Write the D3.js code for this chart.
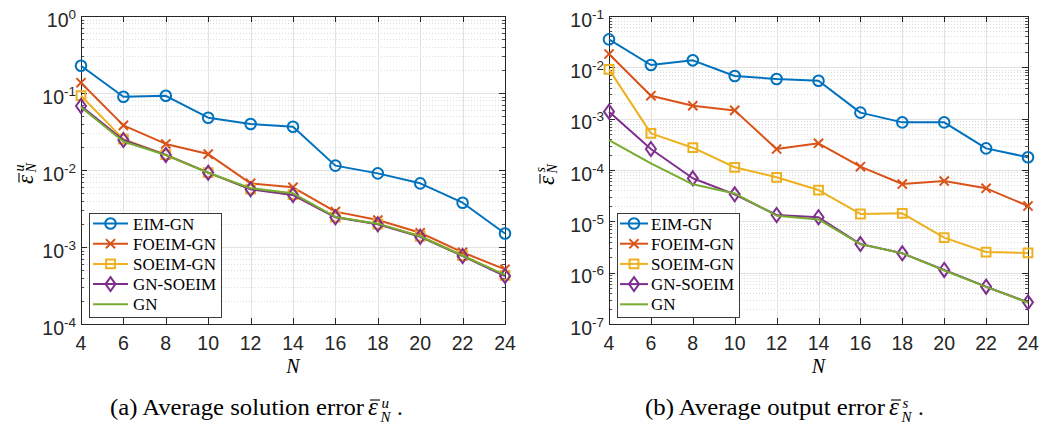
<!DOCTYPE html>
<html>
<head>
<meta charset="utf-8">
<script src="https://cdn.jsdelivr.net/npm/d3@7"></script>
<style>
  body { margin: 0; background: #fff; }
  svg { display: block; }
</style>
</head>
<body>
<svg id="fig" width="1047" height="426"></svg>
<script>
// Reduced-basis dimension N
const Nvals = [4, 6, 8, 10, 12, 14, 16, 18, 20, 22, 24];
const xTicks = [4, 6, 8, 10, 12, 14, 16, 18, 20, 22, 24];

const seriesNames = ["EIM-GN", "FOEIM-GN", "SOEIM-GN", "GN-SOEIM", "GN"];
const seriesColors = ["#0072BD", "#D95319", "#EDB120", "#7E2F8E", "#77AC30"];
const seriesMarkers = ["circle", "cross", "square", "diamond", "none"];

// (a) average solution error
const solEIM   = [0.226, 0.0895, 0.092, 0.0478, 0.0396, 0.0365, 0.0114, 0.00904, 0.00671, 0.00376, 0.00150];
const solFOEIM = [0.136, 0.038, 0.0218, 0.0161, 0.00671, 0.00596, 0.00288, 0.00224, 0.00153, 0.000853, 0.000513];
const solSOEIM = [0.0923, 0.0252, 0.0158, 0.00925, 0.00565, 0.00478, 0.00245, 0.00199, 0.00138, 0.000775, 0.000428];
const solGNSOEIM = [0.0678, 0.0245, 0.0157, 0.00923, 0.00561, 0.00473, 0.00243, 0.00197, 0.00136, 0.000764, 0.000420];
const solGN    = [0.0652, 0.0235, 0.0156, 0.0092, 0.0058, 0.00498, 0.00246, 0.00201, 0.00138, 0.00077, 0.000435];
const solDecades = [-4, -3, -2, -1, 0];

// (b) average output error
const outEIM   = [0.0351, 0.0111, 0.0137, 0.00678, 0.00593, 0.00549, 0.00131, 0.000847, 0.000847, 0.000264, 0.000177];
const outFOEIM = [0.0182, 0.0028, 0.00179, 0.00145, 0.000256, 0.000331, 0.000116, 5.33e-5, 6.1e-5, 4.4e-5, 1.99e-5];
const outSOEIM = [0.00914, 0.000518, 0.000272, 0.000113, 7.2e-5, 4.07e-5, 1.39e-5, 1.43e-5, 4.81e-6, 2.52e-6, 2.42e-6];
const outGNSOEIM = [0.00137, 0.000256, 6.89e-5, 3.36e-5, 1.33e-5, 1.2e-5, 3.61e-6, 2.38e-6, 1.13e-6, 5.33e-7, 2.64e-7];
const outGN    = [0.000384, 0.000135, 5.26e-5, 3.5e-5, 1.29e-5, 1.09e-5, 3.6e-6, 2.4e-6, 1.1e-6, 5.3e-7, 2.6e-7];
const outDecades = [-7, -6, -5, -4, -3, -2, -1];

const svg = d3.select("#fig");
const AXIS = "#262626";
const SANS = "'Liberation Sans', Arial, Helvetica, sans-serif";
const SERIF = "'Liberation Serif', 'DejaVu Serif', serif";

function markerPath(kind, cx, cy) {
  const p = d3.path();
  if (kind === "circle") {
    p.moveTo(cx + 5.3, cy);
    p.arc(cx, cy, 5.3, 0, 2 * Math.PI);
  } else if (kind === "cross") {
    const s = 4.6;
    p.moveTo(cx - s, cy - s); p.lineTo(cx + s, cy + s);
    p.moveTo(cx - s, cy + s); p.lineTo(cx + s, cy - s);
  } else if (kind === "square") {
    const s = 4.4;
    p.rect(cx - s, cy - s, 2 * s, 2 * s);
  } else if (kind === "diamond") {
    p.moveTo(cx, cy - 7); p.lineTo(cx + 5, cy); p.lineTo(cx, cy + 7); p.lineTo(cx - 5, cy); p.closePath();
  }
  return p.toString();
}

// epsilon-bar with a superscript and subscript N, drawn at local origin (baseline)
function epsLabel(g, sup, size, o) {
  g.append("text").attr("x", 0).attr("y", 0)
    .attr("font-family", SERIF).attr("font-style", "italic").attr("font-size", size)
    .attr("fill", "#000").text("\u03B5");
  g.append("line").attr("x1", o.barX0).attr("x2", o.barX1)
    .attr("y1", o.barY).attr("y2", o.barY)
    .attr("stroke", "#000").attr("stroke-width", 1.1);
  g.append("text").attr("x", o.scriptX).attr("y", o.supY)
    .attr("font-family", SERIF).attr("font-style", "italic").attr("font-size", o.scriptSize)
    .attr("fill", "#000").text(sup);
  g.append("text").attr("x", o.scriptX - 1).attr("y", o.subY)
    .attr("font-family", SERIF).attr("font-style", "italic").attr("font-size", o.scriptSize)
    .attr("fill", "#000").text("N");
}

function drawPanel(cfg) {
  const x = d3.scaleLinear().domain([4, 24]).range([cfg.left, cfg.right]);
  const y = d3.scaleLog().domain([Math.pow(10, cfg.decades[0]), Math.pow(10, cfg.decades[cfg.decades.length - 1])])
    .range([cfg.bottom, cfg.top]);
  const g = svg.append("g");

  // minor log grid (dotted)
  const minor = [];
  for (let i = 0; i < cfg.decades.length - 1; i++) {
    for (let m = 2; m <= 9; m++) minor.push(m * Math.pow(10, cfg.decades[i]));
  }
  g.selectAll(".mgrid").data(minor).enter().append("line")
    .attr("x1", cfg.left).attr("x2", cfg.right)
    .attr("y1", d => Math.round(y(d)) + 0.5).attr("y2", d => Math.round(y(d)) + 0.5)
    .attr("stroke", "#d4d4d4").attr("stroke-width", 0.8).attr("stroke-dasharray", "1,2");

  // major grid
  g.selectAll(".ygrid").data(cfg.decades).enter().append("line")
    .attr("x1", cfg.left).attr("x2", cfg.right)
    .attr("y1", d => Math.round(y(Math.pow(10, d))) + 0.5).attr("y2", d => Math.round(y(Math.pow(10, d))) + 0.5)
    .attr("stroke", "#e2e2e2").attr("stroke-width", 1);
  g.selectAll(".xgrid").data(xTicks).enter().append("line")
    .attr("x1", d => Math.round(x(d)) + 0.5).attr("x2", d => Math.round(x(d)) + 0.5)
    .attr("y1", cfg.top).attr("y2", cfg.bottom)
    .attr("stroke", "#e2e2e2").attr("stroke-width", 1);

  // box and inward ticks
  g.append("rect").attr("x", cfg.left + 0.5).attr("y", cfg.top + 0.5)
    .attr("width", cfg.right - cfg.left).attr("height", cfg.bottom - cfg.top)
    .attr("fill", "none").attr("stroke", AXIS).attr("stroke-width", 1);
  xTicks.forEach(t => {
    const px = Math.round(x(t)) + 0.5;
    g.append("line").attr("x1", px).attr("x2", px).attr("y1", cfg.bottom).attr("y2", cfg.bottom - 6).attr("stroke", AXIS);
    g.append("line").attr("x1", px).attr("x2", px).attr("y1", cfg.top).attr("y2", cfg.top + 6).attr("stroke", AXIS);
  });
  cfg.decades.forEach(d => {
    const py = Math.round(y(Math.pow(10, d))) + 0.5;
    g.append("line").attr("x1", cfg.left).attr("x2", cfg.left + 6).attr("y1", py).attr("y2", py).attr("stroke", AXIS);
    g.append("line").attr("x1", cfg.right).attr("x2", cfg.right - 6).attr("y1", py).attr("y2", py).attr("stroke", AXIS);
  });
  minor.forEach(v => {
    const py = Math.round(y(v)) + 0.5;
    g.append("line").attr("x1", cfg.left).attr("x2", cfg.left + 3).attr("y1", py).attr("y2", py).attr("stroke", AXIS).attr("stroke-width", 0.8);
    g.append("line").attr("x1", cfg.right).attr("x2", cfg.right - 3).attr("y1", py).attr("y2", py).attr("stroke", AXIS).attr("stroke-width", 0.8);
  });

  // x tick labels
  g.selectAll(".xtl").data(xTicks).enter().append("text")
    .attr("x", d => x(d)).attr("y", cfg.bottom + 25.5)
    .attr("text-anchor", "middle").attr("font-family", SANS).attr("font-size", 19.5)
    .attr("fill", AXIS).text(d => d);

  // y tick labels 10^k
  cfg.decades.forEach(d => {
    const py = y(Math.pow(10, d));
    const t = g.append("text").attr("y", py + 10.5)
      .attr("text-anchor", "end").attr("font-family", SANS).attr("fill", AXIS)
      .attr("x", cfg.left - 5);
    t.append("tspan").attr("font-size", 19.5).text("10");
    t.append("tspan").attr("font-size", 13.5).attr("dy", -8).text(d === 0 ? "0" : "-" + Math.abs(d));
  });

  // axis label N
  g.append("text").attr("x", (cfg.left + cfg.right) / 2).attr("y", cfg.bottom + 49)
    .attr("text-anchor", "middle").attr("font-family", SERIF).attr("font-style", "italic")
    .attr("font-size", 20).attr("fill", "#000").text("N");

  // y axis label, rotated
  const yl = g.append("g").attr("transform", `translate(${cfg.ylabX},${cfg.ylabY}) rotate(-90)`);
  epsLabel(yl, cfg.sup, 23, { barX0: 1.5, barX1: 11, barY: -14, scriptX: 12.5, supY: -9, subY: 3, scriptSize: 14 });

  // series lines and markers
  const line = d3.line().x((d, i) => x(Nvals[i])).y(d => y(d));
  cfg.series.forEach((vals, si) => {
    g.append("path").datum(vals).attr("d", line)
      .attr("fill", "none").attr("stroke", seriesColors[si]).attr("stroke-width", 2)
      .attr("stroke-linejoin", "round");
    if (seriesMarkers[si] !== "none") {
      g.selectAll(null).data(vals).enter().append("path")
        .attr("d", (d, i) => markerPath(seriesMarkers[si], x(Nvals[i]), y(d)))
        .attr("fill", "none").attr("stroke", seriesColors[si]).attr("stroke-width", 2);
    }
  });

  // legend
  const L = cfg.legend;
  g.append("rect").attr("x", L.x + 0.5).attr("y", L.y + 0.5).attr("width", L.w).attr("height", L.h)
    .attr("fill", "#fff").attr("stroke", AXIS).attr("stroke-width", 0.9);
  seriesNames.forEach((name, si) => {
    const ry = L.y + 10.5 + si * 20.2;
    g.append("line").attr("x1", L.s0).attr("x2", L.s1).attr("y1", ry).attr("y2", ry)
      .attr("stroke", seriesColors[si]).attr("stroke-width", 2);
    if (seriesMarkers[si] !== "none") {
      g.append("path").attr("d", markerPath(seriesMarkers[si], (L.s0 + L.s1) / 2, ry))
        .attr("fill", "none").attr("stroke", seriesColors[si]).attr("stroke-width", 2);
    }
    g.append("text").attr("x", L.tx).attr("y", ry + 6)
      .attr("font-family", SERIF).attr("font-size", 17).attr("fill", "#000").text(name);
  });

  // caption
  g.append("text").attr("x", cfg.capX).attr("y", 415)
    .attr("font-family", SERIF).attr("font-size", 23).attr("fill", "#000")
    .attr("textLength", cfg.capW).attr("lengthAdjust", "spacingAndGlyphs")
    .text(cfg.caption);
  const ex = cfg.capX + cfg.capW + 4;
  const eg = g.append("g").attr("transform", `translate(${ex},415)`);
  epsLabel(eg, cfg.sup, 25, { barX0: 2, barX1: 12, barY: -15, scriptX: 13.5, supY: -7, subY: 7, scriptSize: 15 });
  g.append("text").attr("x", ex + 29).attr("y", 415)
    .attr("font-family", SERIF).attr("font-size", 23).attr("fill", "#000").text(".");
}

drawPanel({
  left: 81, right: 505, top: 16, bottom: 324,
  decades: solDecades,
  series: [solEIM, solFOEIM, solSOEIM, solGNSOEIM, solGN],
  sup: "u", ylabX: 33, ylabY: 184,
  legend: { x: 89, y: 213, w: 132, h: 104, s0: 93, s1: 128, tx: 133 },
  caption: "(a) Average solution error", capX: 110, capW: 254
});

drawPanel({
  left: 609, right: 1028, top: 16, bottom: 324,
  decades: outDecades,
  series: [outEIM, outFOEIM, outSOEIM, outGNSOEIM, outGN],
  sup: "s", ylabX: 554, ylabY: 185,
  legend: { x: 617, y: 213, w: 122, h: 104, s0: 620, s1: 648, tx: 651 },
  caption: "(b) Average output error", capX: 645, capW: 240
});
</script>
</body>
</html>
